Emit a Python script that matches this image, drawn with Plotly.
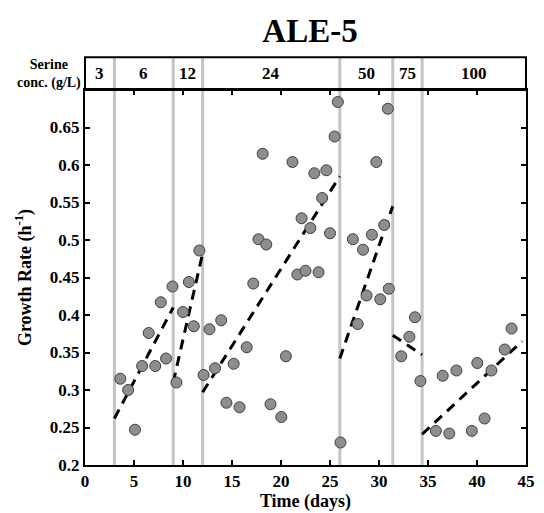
import plotly.graph_objects as go

# growth-rate measurements (day, h^-1)
time_days = [3.6, 4.4, 5.1, 5.83, 6.5, 7.17, 7.73, 8.27, 8.93, 9.33, 10.0, 10.6, 11.1, 11.67,
             12.1, 12.7, 13.27, 13.9, 14.43, 15.17, 15.77, 16.5, 17.17, 17.7, 18.13, 18.5,
             18.93, 20.03, 20.5, 21.17, 21.67, 22.1, 22.5, 23.0, 23.4, 23.83, 24.2, 24.63,
             25.0, 25.47, 25.8, 26.07, 27.33, 27.83, 28.37, 28.73, 29.27, 29.73, 30.13,
             30.53, 30.9, 31.0, 32.27, 33.1, 33.67, 34.23, 35.8, 36.5, 37.17, 37.9, 39.47,
             40.03, 40.77, 41.47, 42.83, 43.53]
growth_rate = [0.315, 0.300, 0.247, 0.332, 0.376, 0.332, 0.417, 0.342, 0.438, 0.310, 0.404,
               0.444, 0.385, 0.486, 0.320, 0.381, 0.329, 0.393, 0.283, 0.335, 0.277, 0.357,
               0.442, 0.501, 0.615, 0.494, 0.281, 0.264, 0.345, 0.604, 0.454, 0.529, 0.459,
               0.516, 0.589, 0.457, 0.556, 0.593, 0.509, 0.638, 0.684, 0.230, 0.501, 0.388,
               0.487, 0.426, 0.507, 0.604, 0.421, 0.520, 0.675, 0.435, 0.345, 0.371, 0.397,
               0.312, 0.2455, 0.319, 0.242, 0.326, 0.2455, 0.336, 0.262, 0.326, 0.354, 0.382]

# serine step changes and concentrations
boundaries = [3, 9, 12, 26, 31.4, 34.4]
serine_labels = ["3", "6", "12", "24", "50", "75", "100"]

# linear fits per phase: start/end
fit_x0 = [3, 9, 12, 26, 31.4, 34.4]
fit_y0 = [0.262, 0.31, 0.297, 0.342, 0.373, 0.241]
fit_x1 = [9, 12, 26, 31.4, 34.4, 44.6]
fit_y1 = [0.41, 0.482, 0.585, 0.545, 0.347, 0.365]

x_ticks = [0, 5, 10, 15, 20, 25, 30, 35, 40, 45]
y_ticks = [0.2, 0.25, 0.3, 0.35, 0.4, 0.45, 0.5, 0.55, 0.6, 0.65]
y_ticktext = ["0.2", "0.25", "0.3", "0.35", "0.4", "0.45", "0.5", "0.55", "0.6", "0.65"]

FONT = "Liberation Serif"
W, H = 536, 505          # page body adds an 8px margin
HEADER = 33 / 377        # header band height as fraction of plot height

fig = go.Figure()

for x0, y0, x1, y1 in zip(fit_x0, fit_y0, fit_x1, fit_y1):
    fig.add_trace(go.Scatter(
        x=[x0, x1], y=[y0, y1], mode="lines",
        line=dict(color="black", width=3, dash="10px,7px"),
        showlegend=False, hoverinfo="skip",
    ))

fig.add_trace(go.Scatter(
    x=time_days, y=growth_rate, mode="markers",
    marker=dict(size=11, color="#8e8e8e", line=dict(color="#404040", width=1)),
    showlegend=False,
))

shapes = []
for b in boundaries:
    shapes.append(dict(type="line", xref="x", yref="paper", x0=b, x1=b, y0=0, y1=1 + HEADER,
                       line=dict(color="#c4c4c4", width=3), layer="below"))
shapes.append(dict(type="rect", xref="paper", yref="paper", x0=0, x1=1, y0=1, y1=1 + HEADER,
                   line=dict(color="black", width=2)))

edges = [0] + boundaries + [45]
annotations = []
for i, lab in enumerate(serine_labels):
    annotations.append(dict(x=(edges[i] + edges[i + 1]) / 2, y=1 + HEADER / 2,
                            xref="x", yref="paper", text=lab, showarrow=False,
                            xanchor="center", yanchor="middle",
                            font=dict(family=FONT, size=17, color="black", weight="bold")))
annotations.append(dict(x=-37 / 450, y=1 + HEADER / 2, xref="paper", yref="paper",
                        text="Serine<br>conc. (g/L)", showarrow=False, align="center",
                        xanchor="center", yanchor="middle",
                        font=dict(family=FONT, size=14, color="black", weight="bold")))

fig.update_layout(
    width=W, height=H,
    margin=dict(l=77, r=9, t=82, b=46),
    plot_bgcolor="white", paper_bgcolor="white",
    title=dict(text="ALE-5", x=302 / W, xanchor="center", y=1 - 22 / H, yanchor="middle",
               font=dict(family=FONT, size=33, color="black", weight="bold")),
    shapes=shapes, annotations=annotations,
    xaxis=dict(range=[0, 45], tickvals=x_ticks, ticks="inside", ticklen=5, tickwidth=2,
               tickcolor="black", showline=True, linecolor="black", linewidth=2, mirror="ticks",
               showgrid=False, zeroline=False,
               tickfont=dict(family=FONT, size=17, color="black", weight="bold"),
               title=dict(text="Time (days)", standoff=0,
                          font=dict(family=FONT, size=18, color="black", weight="bold"))),
    yaxis=dict(range=[0.2, 0.7], tickvals=y_ticks, ticktext=y_ticktext, ticks="inside",
               ticklen=5, tickwidth=2, tickcolor="black", showline=True, linecolor="black",
               linewidth=2, mirror="ticks", showgrid=False, zeroline=False,
               tickfont=dict(family=FONT, size=17, color="black", weight="bold"),
               title=dict(text="Growth Rate (h<sup>-1</sup>)", standoff=14,
                          font=dict(family=FONT, size=18, color="black", weight="bold"))),
)

fig.write_html("out.html")
